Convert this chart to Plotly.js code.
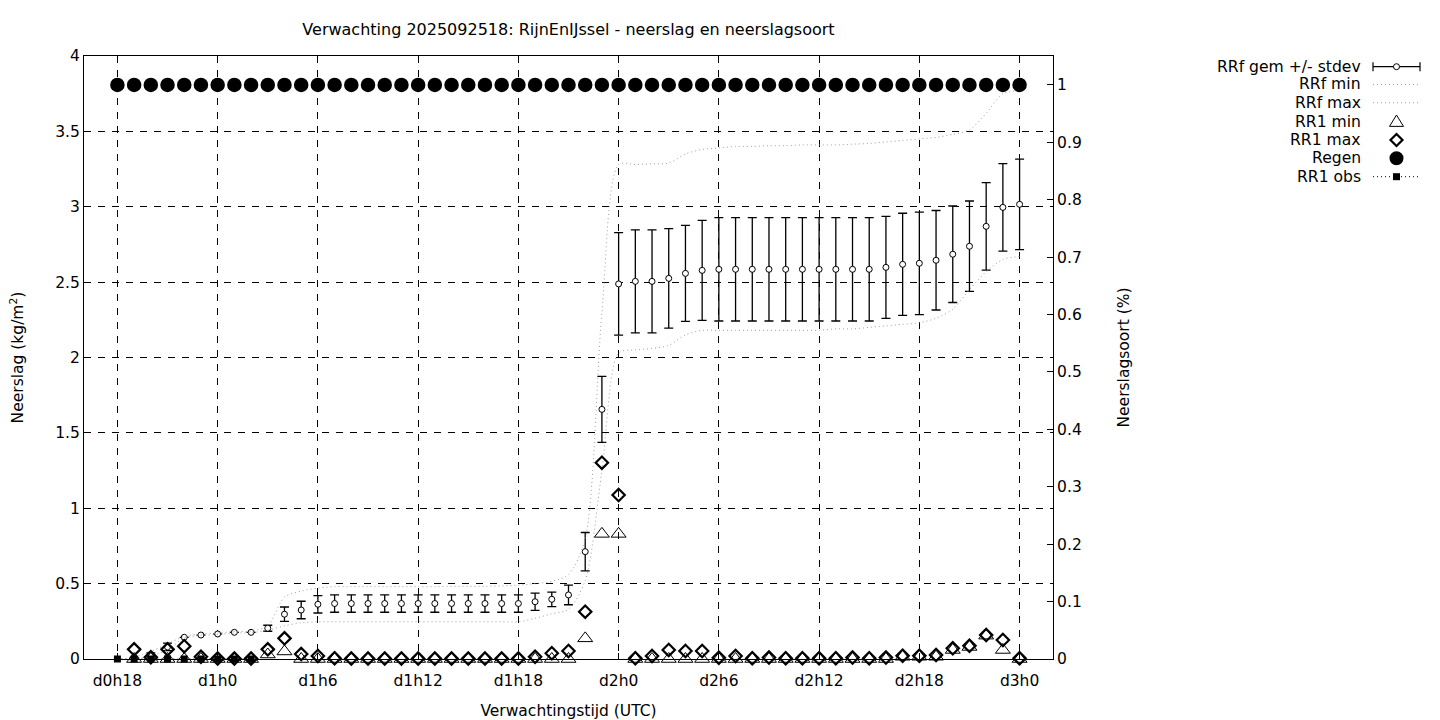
<!DOCTYPE html>
<html>
<head>
<meta charset="utf-8">
<script src="https://cdn.plot.ly/plotly-3.0.1.min.js"></script>
<style>
  html, body { margin: 0; padding: 0; background: #ffffff; }
  #chart { width: 1440px; height: 720px; }
</style>
</head>
<body>
<div id="chart"></div>
<script>
// ---------------- DATA ----------------
// hours since forecast day 0, 00 UTC
const hoursAll = [18,19,20,21,22,23,24,25,26,27,28,29,30,31,32,33,34,35,36,37,38,39,40,41,42,43,44,45,
                  46,47,48,49,50,51,52,53,54,55,56,57,58,59,60,61,62,63,64,65,66,67,68,69,70,71,72];
const hoursFc = [19,20,21,22,23,24,25,26,27,28,29,30,31,32,33,34,35,36,37,38,39,40,41,42,43,44,45,
                 46,47,48,49,50,51,52,53,54,55,56,57,58,59,60,61,62,63,64,65,66,67,68,69,70,71,72];
const hoursObs = [18,19,20,21,22,23,24,25,26];

const tickHours = [18,24,30,36,42,48,54,60,66,72];
const tickLabels = ["d0h18","d1h0","d1h6","d1h12","d1h18","d2h0","d2h6","d2h12","d2h18","d3h0"];

// RRf gem (ensemble mean, accumulated) and stdev
const rrfMean = [0.01,0.03,0.08,0.144,0.159,0.166,0.177,0.177,0.204,0.297,0.325,0.363,0.368,0.368,0.368,0.368,0.368,0.368,0.368,0.368,0.368,0.368,0.368,0.368,0.38,0.396,0.425,
                 0.712,1.656,2.488,2.505,2.505,2.525,2.558,2.578,2.585,2.585,2.585,2.585,2.585,2.585,2.585,2.585,2.585,2.585,2.598,2.618,2.625,2.645,2.685,2.738,2.870,2.996,3.016];
const rrfStd  = [0,0.01,0.025,0,0,0,0,0,0.02,0.048,0.058,0.058,0.058,0.058,0.058,0.058,0.058,0.058,0.058,0.058,0.058,0.058,0.058,0.058,0.057,0.048,0.065,
                 0.127,0.219,0.34,0.342,0.342,0.33,0.318,0.332,0.343,0.343,0.343,0.343,0.343,0.343,0.343,0.343,0.343,0.343,0.338,0.339,0.34,0.33,0.32,0.30,0.29,0.29,0.30];
// RRf min / max (ensemble extremes, accumulated)
const rrfMin  = [0,0.02,0.06,0.14,0.155,0.163,0.173,0.175,0.19,0.22,0.24,0.247,0.247,0.247,0.247,0.247,0.247,0.247,0.247,0.247,0.247,0.247,0.247,0.247,0.27,0.30,0.33,
                 0.52,1.25,2.03,2.05,2.06,2.08,2.15,2.18,2.18,2.18,2.18,2.18,2.18,2.18,2.18,2.19,2.19,2.20,2.21,2.22,2.23,2.26,2.32,2.45,2.57,2.65,2.67];
const rrfMax  = [0.01,0.05,0.10,0.15,0.165,0.172,0.182,0.185,0.22,0.41,0.45,0.47,0.48,0.48,0.48,0.48,0.48,0.48,0.48,0.482,0.482,0.482,0.485,0.49,0.50,0.515,0.56,
                 0.80,2.30,3.28,3.28,3.285,3.29,3.35,3.38,3.39,3.40,3.40,3.405,3.405,3.41,3.41,3.41,3.415,3.42,3.43,3.44,3.45,3.46,3.48,3.51,3.62,3.75,3.77];
// RR1 min / max (hourly)
const rr1Min  = [0,0,0,0,0,0,0,0,0.03,0.05,0,0,0,0,0,0,0,0,0,0,0,0,0,0,0,0,0,
                 0.137,0.83,0.83,0,0,0,0,0,0,0,0,0,0,0,0,0,0,0,0,0.015,0.015,0.015,0.06,0.08,0.155,0.06,0];
const rr1Max  = [0.064,0.012,0.064,0.085,0.015,0.003,0.003,0.003,0.064,0.137,0.033,0.02,0.005,0.003,0.003,0.003,0.003,0.003,0.003,0.003,0.003,0.003,0.003,0.003,0.015,0.038,0.053,
                 0.314,1.302,1.088,0.005,0.02,0.06,0.053,0.053,0.009,0.02,0.005,0.01,0.005,0.005,0.005,0.005,0.01,0.005,0.01,0.022,0.022,0.027,0.071,0.088,0.159,0.126,0.005];
// Regen (precipitation type: rain fraction, right axis)
const regen   = [1,1,1,1,1,1,1,1,1,1,1,1,1,1,1,1,1,1,1,1,1,1,1,1,1,1,1,1,1,1,1,1,1,1,1,1,1,1,1,1,1,1,1,1,1,1,1,1,1,1,1,1,1,1,1];
// RR1 obs
const rr1Obs  = [0,0,0,0,0,0,0,0,0];

// ---------------- STYLE ----------------
const FONT = "DejaVu Sans, sans-serif";
const FS = 15.5;
const FT = 16;
const L = 84, R = 1053, T = 56, B = 659;
const px2x = p => (p - L) / (R - L);
const px2y = p => (B - p) / (B - T);

const traces = [
  {
    name: "RRf gem +/- stdev", x: hoursFc, y: rrfMean, type: "scatter", mode: "markers",
    marker: {symbol: "circle", size: 6, color: "#ffffff", line: {color: "#000000", width: 1}},
    error_y: {type: "data", array: rrfStd, visible: true, color: "#000000", thickness: 1.3, width: 4.5},
    showlegend: false, cliponaxis: false
  },
  {
    name: "RRf min", x: hoursFc, y: rrfMin, type: "scatter", mode: "lines",
    line: {color: "#a0a0a0", width: 1, dash: "1px,3px", shape: "spline", smoothing: 0.8},
    showlegend: false
  },
  {
    name: "RRf max", x: hoursFc, y: rrfMax, type: "scatter", mode: "lines",
    line: {color: "#a0a0a0", width: 1, dash: "1px,3px", shape: "spline", smoothing: 0.8},
    showlegend: false
  },
  {
    name: "RR1 min", x: hoursFc, y: rr1Min, type: "scatter", mode: "markers",
    marker: {symbol: "triangle-up-open", size: 13, color: "#000000", line: {width: 1}},
    showlegend: false, cliponaxis: false
  },
  {
    name: "RR1 max", x: hoursFc, y: rr1Max, type: "scatter", mode: "markers",
    marker: {symbol: "diamond-open", size: 9.5, color: "#000000", line: {width: 2.2}},
    showlegend: false, cliponaxis: false
  },
  {
    name: "RR1 obs", x: hoursObs, y: rr1Obs, type: "scatter", mode: "lines+markers",
    marker: {symbol: "square", size: 7, color: "#000000"},
    line: {color: "#000000", width: 1, dash: "1px,3px"},
    showlegend: false, cliponaxis: false
  },
  {
    name: "Regen", x: hoursAll, y: regen, type: "scatter", mode: "markers", yaxis: "y2",
    marker: {symbol: "circle", size: 14.5, color: "#000000"},
    showlegend: false, cliponaxis: false
  }
];

// ---------------- custom legend (gnuplot style: text left, sample right) ----------------
const legRows = [
  {label: "RRf gem +/- stdev", y: 66.7},
  {label: "RRf min", y: 84.5},
  {label: "RRf max", y: 102.7},
  {label: "RR1 min", y: 121.5},
  {label: "RR1 max", y: 140},
  {label: "Regen", y: 158.3},
  {label: "RR1 obs", y: 176.7}
];
const sx0 = 1373, sx1 = 1420, sxc = 1396.5;
const annotations = legRows.map(r => ({
  text: r.label, xref: "paper", yref: "paper", x: px2x(1363), y: px2y(r.y),
  xanchor: "right", yanchor: "middle", showarrow: false,
  font: {family: FONT, size: 15.6, color: "#000000"}
}));
const shapes = [];
const seg = (x0, y0, x1, y1, line) => shapes.push({type: "line", xref: "paper", yref: "paper",
  x0: px2x(x0), y0: px2y(y0), x1: px2x(x1), y1: px2y(y1), line: line, layer: "above"});
// row 1: error bar sample
(function () {
  const y = legRows[0].y;
  seg(sx0, y, sx1, y, {color: "#000", width: 1.2});
  seg(sx0, y - 4.5, sx0, y + 4.5, {color: "#000", width: 1.2});
  seg(sx1, y - 4.5, sx1, y + 4.5, {color: "#000", width: 1.2});
  shapes.push({type: "circle", xref: "paper", yref: "paper", layer: "above",
    x0: px2x(sxc - 3), x1: px2x(sxc + 3), y0: px2y(y + 3), y1: px2y(y - 3),
    fillcolor: "#ffffff", line: {color: "#000", width: 1}});
})();
// rows 2,3: dotted grey lines
seg(sx0, legRows[1].y, sx1, legRows[1].y, {color: "#a0a0a0", width: 1, dash: "1px,3px"});
seg(sx0, legRows[2].y, sx1, legRows[2].y, {color: "#a0a0a0", width: 1, dash: "1px,3px"});
// row 4: triangle
(function () {
  const y = legRows[3].y, h = 6.5, w = 7;
  const p = [[sxc, y - h], [sxc + w, y + h * 0.75], [sxc - w, y + h * 0.75]];
  shapes.push({type: "path", xref: "paper", yref: "paper", layer: "above",
    path: "M" + p.map(q => px2x(q[0]) + "," + px2y(q[1])).join("L") + "Z",
    line: {color: "#000", width: 1}});
})();
// row 5: diamond
(function () {
  const y = legRows[4].y, r = 6;
  const p = [[sxc, y - r], [sxc + r, y], [sxc, y + r], [sxc - r, y]];
  shapes.push({type: "path", xref: "paper", yref: "paper", layer: "above",
    path: "M" + p.map(q => px2x(q[0]) + "," + px2y(q[1])).join("L") + "Z",
    line: {color: "#000", width: 2.2}});
})();
// row 6: filled circle
(function () {
  const y = legRows[5].y, r = 7;
  shapes.push({type: "circle", xref: "paper", yref: "paper", layer: "above",
    x0: px2x(sxc - r), x1: px2x(sxc + r), y0: px2y(y + r), y1: px2y(y - r),
    fillcolor: "#000", line: {color: "#000", width: 0}});
})();
// row 7: dotted black line with square
(function () {
  const y = legRows[6].y, r = 3.5;
  seg(sx0, y, sx1, y, {color: "#000", width: 1, dash: "1px,3px"});
  shapes.push({type: "rect", xref: "paper", yref: "paper", layer: "above",
    x0: px2x(sxc - r), x1: px2x(sxc + r), y0: px2y(y + r), y1: px2y(y - r),
    fillcolor: "#000", line: {color: "#000", width: 0}});
})();

const layout = {
  width: 1440, height: 720,
  margin: {l: L, r: 1440 - R, t: T, b: 720 - B, pad: 0},
  paper_bgcolor: "#ffffff", plot_bgcolor: "#ffffff",
  font: {family: FONT, size: FS, color: "#000000"},
  showlegend: false,
  title: {
    text: "Verwachting 2025092518: RijnEnIJssel - neerslag en neerslagsoort",
    font: {family: FONT, size: FT, color: "#000000"},
    xref: "paper", x: 0.5, xanchor: "center",
    yref: "container", y: 1 - 29 / 720, yanchor: "middle"
  },
  xaxis: {
    range: [16, 74], tickvals: tickHours, ticktext: tickLabels,
    showgrid: true, gridcolor: "#000000", gridwidth: 1, griddash: "7px,7px",
    zeroline: false, showline: true, linecolor: "#000000", linewidth: 1, mirror: "ticks",
    ticks: "inside", ticklen: 6, tickcolor: "#000000", ticklabelstandoff: 7,
    tickfont: {family: FONT, size: FS, color: "#000000"},
    title: {text: "Verwachtingstijd (UTC)", font: {family: FONT, size: FS, color: "#000000"}, standoff: 16}
  },
  yaxis: {
    range: [0, 4], tickvals: [0,0.5,1,1.5,2,2.5,3,3.5,4], ticktext: ["0","0.5","1","1.5","2","2.5","3","3.5","4"],
    showgrid: true, gridcolor: "#000000", gridwidth: 1, griddash: "7px,7px",
    zeroline: false, showline: true, linecolor: "#000000", linewidth: 1, mirror: true,
    ticks: "inside", ticklen: 6, tickcolor: "#000000",
    tickfont: {family: FONT, size: FS, color: "#000000"},
    title: {text: "Neerslag (kg/m<sup>2</sup>)", font: {family: FONT, size: FS, color: "#000000"}, standoff: 27}
  },
  yaxis2: {
    overlaying: "y", side: "right", range: [0, 1.0505],
    tickvals: [0,0.1,0.2,0.3,0.4,0.5,0.6,0.7,0.8,0.9,1],
    ticktext: ["0","0.1","0.2","0.3","0.4","0.5","0.6","0.7","0.8","0.9","1"],
    showgrid: false, zeroline: false, showline: true, linecolor: "#000000", linewidth: 1,
    ticks: "inside", ticklen: 6, tickcolor: "#000000",
    tickfont: {family: FONT, size: FS, color: "#000000"},
    title: {text: "Neerslagsoort (%)", font: {family: FONT, size: FS, color: "#000000"}, standoff: 37}
  },
  annotations: annotations,
  shapes: shapes
};

Plotly.newPlot("chart", traces, layout, {displayModeBar: false, staticPlot: true});
</script>
</body>
</html>
